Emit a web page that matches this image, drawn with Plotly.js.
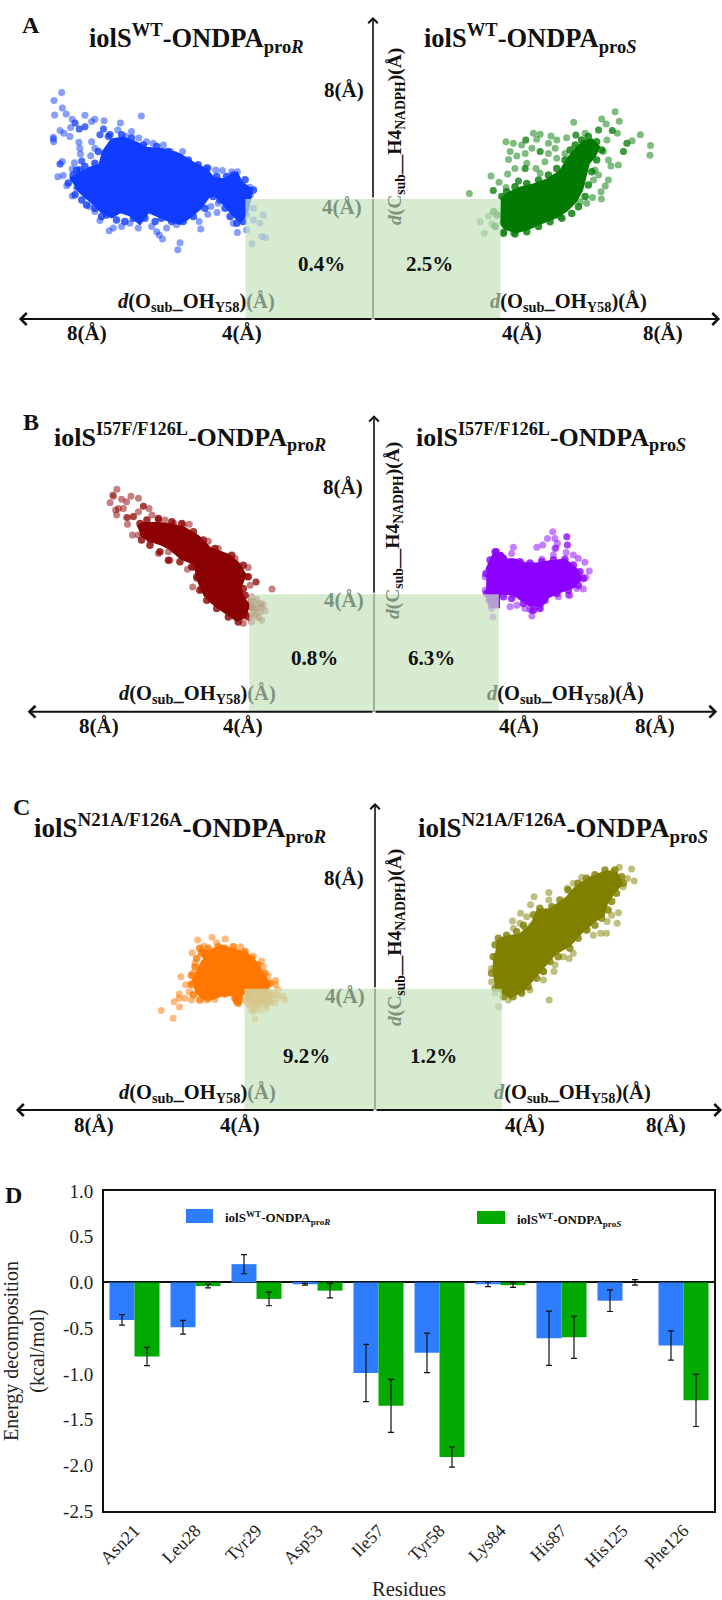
<!DOCTYPE html>
<html><head><meta charset="utf-8">
<script src="https://cdn.plot.ly/plotly-3.0.1.min.js"></script>
<style>html,body{margin:0;padding:0;background:#fff}</style></head>
<body><div id="chart" style="width:722px;height:1600px"></div>
<script>
// ---- Panel D data (kcal/mol) ----
const residues=["Asn21","Leu28","Tyr29","Asp53","Ile57","Tyr58","Lys84","His87","His125","Phe126"];
const proRValues=[-0.41,-0.49,0.20,-0.02,-0.99,-0.77,-0.02,-0.61,-0.20,-0.69];
const proRErrors=[0.057,0.075,0.105,0.01,0.313,0.216,0.025,0.297,0.118,0.16];
const proSValues=[-0.81,-0.04,-0.18,-0.09,-1.35,-1.91,-0.03,-0.60,0.00,-1.29];
const proSErrors=[0.10,0.02,0.075,0.08,0.29,0.11,0.025,0.23,0.03,0.286];
const energyTickVals=[-2.5,-2,-1.5,-1,-0.5,0,0.5,1];
const energyTickText=["-2.5","-2.0","-1.5","-1.0","-0.5","0.0","0.5","1.0"];

// ---- Panels A-C: [d(O..OH), d(C..H4)] in angstrom ----
// *Core = outline of the saturated region, *Edge = points on its rim, *Points = separately visible points
const aRCore=[[9.50,4.67],[9.19,4.86],[8.87,5.03],[8.56,5.14],[8.45,5.58],[8.19,5.97],[7.83,6.03],[7.41,5.86],[7.10,5.69],[6.57,5.64],[6.05,5.47],[5.63,5.19],[5.22,4.97],[5.01,4.69],[4.69,4.64],[4.27,4.86],[4.12,4.53],[3.80,4.30],[3.96,3.53],[4.17,3.25],[4.43,3.53],[4.69,3.86],[4.95,4.14],[5.16,4.08],[5.42,3.69],[5.74,3.41],[6.05,3.19],[6.42,3.30],[6.78,3.47],[7.04,3.58],[7.31,3.19],[7.62,3.47],[7.93,3.58],[8.19,3.41],[8.51,3.58],[8.77,3.86],[9.08,4.14],[9.34,4.41]];
const aREdge=[[9.19,4.97],[9.40,4.80],[9.55,4.53],[9.34,4.14],[9.13,3.97],[8.98,3.80],[8.72,3.69],[8.51,3.42],[8.35,3.47],[8.04,3.30],[7.78,3.25],[7.51,3.36],[7.15,3.36],[6.83,3.25],[6.63,3.36],[6.31,3.25],[5.95,3.25],[5.63,3.42],[5.27,3.69],[5.01,4.08],[4.80,3.97],[4.64,3.69],[4.48,3.42],[4.27,3.19],[4.07,3.25],[3.75,4.30],[4.01,4.64],[4.38,4.80],[4.59,4.75],[4.90,4.75],[5.21,5.03],[5.48,5.14],[5.79,5.30],[6.21,5.47],[6.42,5.58],[6.78,5.75],[7.20,5.80],[7.57,6.03],[7.88,6.14],[8.25,6.14],[8.61,5.58],[8.72,5.19],[9.03,5.08],[9.29,4.97]];
const aRPoints=[[9.76,7.55],[10.00,7.28],[9.74,7.03],[9.98,6.80],[9.62,6.83],[9.03,6.79],[7.26,6.77],[9.43,6.66],[8.72,6.66],[8.43,6.61],[7.92,6.53],[9.48,6.38],[9.81,6.28],[9.69,6.19],[9.50,6.08],[10.02,6.06],[10.01,5.91],[7.57,6.25],[8.00,6.30],[7.74,6.08],[7.34,6.03],[7.10,5.91],[6.89,5.86],[6.57,5.80],[6.34,5.58],[5.97,5.58],[9.22,5.89],[9.19,5.69],[9.17,5.50],[8.85,5.44],[8.82,5.91],[8.72,5.69],[9.74,5.25],[9.81,5.17],[9.36,5.21],[9.43,5.00],[9.88,4.74],[9.71,4.78],[9.60,4.44],[9.43,4.10],[9.29,4.36],[8.89,3.75],[8.72,3.58],[8.56,3.28],[8.27,2.94],[8.14,3.03],[7.88,3.08],[7.62,3.19],[7.36,3.03],[6.94,3.08],[6.78,2.91],[6.70,2.80],[6.60,2.67],[6.47,3.03],[6.05,2.54],[6.12,2.31],[6.16,3.14],[5.45,3.25],[5.40,3.00],[5.18,3.49],[5.08,3.75],[4.89,3.55],[4.85,3.86],[5.16,5.03],[4.93,4.97],[4.72,4.95],[4.43,4.91],[4.25,4.91],[3.86,4.39],[3.84,4.14],[4.25,2.88],[3.96,2.97],[4.38,3.19],[3.96,3.47],[3.75,3.69],[3.44,3.47],[3.54,3.19],[3.75,3.30],[3.49,2.75],[3.37,2.72],[3.79,2.51],[9.34,6.53],[9.34,6.53],[9.21,6.33],[9.21,6.33],[9.03,6.41],[9.03,6.41],[8.82,6.58],[8.56,6.14],[8.56,6.14],[8.30,6.08],[8.30,6.08],[8.45,6.33],[8.45,6.33],[9.13,5.27],[9.13,5.27],[9.81,5.17],[10.02,6.00]];
const aSCore=[[4.00,3.97],[4.25,4.19],[4.61,4.36],[5.03,4.47],[5.45,4.63],[5.87,4.91],[6.13,5.36],[6.34,5.63],[6.60,5.91],[6.86,5.97],[7.07,5.74],[6.96,5.47],[6.75,5.19],[6.65,4.74],[6.54,4.30],[6.34,3.91],[6.07,3.63],[5.76,3.41],[5.34,3.24],[4.87,3.02],[4.51,2.91],[4.14,3.02],[3.98,3.24]];
const aSEdge=[[4.04,4.08],[4.19,4.24],[4.45,4.41],[4.82,4.52],[5.19,4.63],[5.50,4.80],[5.76,5.02],[6.02,5.30],[6.18,5.63],[6.34,5.80],[6.54,5.97],[6.75,6.08],[7.01,5.91],[7.17,5.63],[7.01,5.30],[6.86,4.91],[6.75,4.47],[6.65,4.08],[6.44,3.74],[6.23,3.52],[5.92,3.36],[5.55,3.24],[5.19,3.08],[4.82,2.91],[4.45,2.83],[4.09,2.86],[3.83,3.08],[3.88,3.47],[3.78,3.58]];
const aSPoints=[[7.59,6.91],[6.29,6.56],[7.17,6.67],[7.72,6.59],[7.31,6.50],[8.38,6.14],[8.12,5.94],[8.70,5.78],[8.68,5.46],[7.50,6.28],[7.07,6.30],[6.65,6.19],[6.36,6.13],[6.07,6.04],[5.76,5.97],[5.58,6.10],[5.24,6.16],[5.03,6.19],[5.13,5.99],[4.79,5.97],[4.17,5.91],[4.40,5.86],[4.66,5.80],[4.30,5.58],[4.25,5.32],[4.51,5.43],[4.77,5.52],[4.98,5.69],[5.24,5.58],[5.50,5.86],[5.71,5.69],[5.50,5.52],[5.39,5.24],[5.76,5.36],[6.02,5.52],[4.82,5.19],[4.45,5.02],[4.22,4.83],[3.70,4.77],[3.95,4.56],[5.11,5.02],[5.24,4.86],[4.56,4.60],[4.77,5.02],[3.77,4.28],[3.02,4.18],[4.17,4.38],[3.62,3.43],[3.36,3.24],[3.49,2.86],[3.73,3.17],[4.09,2.91],[4.40,2.88],[5.87,3.41],[6.96,4.97],[7.07,4.80],[7.38,4.63],[7.28,4.43],[7.15,4.24],[7.16,4.00],[6.88,4.05],[6.70,3.86],[6.49,3.91],[7.69,5.13],[7.46,5.10],[7.38,5.30],[7.96,5.86],[7.85,5.58],[7.66,6.19],[7.33,5.97],[7.22,5.58],[6.91,4.63],[4.79,5.97],[6.36,6.13],[7.50,6.28],[7.07,6.30],[7.96,5.86],[7.85,5.58],[5.24,5.58],[4.77,5.02],[3.77,4.28],[4.56,4.60]];
const bRCore=[[7.58,6.30],[7.39,6.41],[6.91,6.41],[6.48,6.36],[6.06,6.24],[5.63,5.96],[5.26,5.56],[4.67,5.33],[4.35,5.05],[4.13,4.65],[4.29,4.25],[4.24,3.97],[4.03,3.63],[4.13,3.23],[4.40,3.12],[4.72,3.35],[5.09,3.63],[5.42,3.97],[5.63,4.48],[5.74,5.05],[6.16,5.22],[6.54,5.56],[6.86,5.73],[7.23,5.85],[7.50,6.07]];
const bREdge=[[7.50,6.41],[7.28,6.53],[6.91,6.58],[6.48,6.47],[6.16,6.41],[5.79,6.13],[5.47,5.85],[5.10,5.56],[4.56,5.33],[4.19,4.99],[4.03,4.60],[4.19,4.20],[4.13,3.97],[3.92,3.57],[4.03,3.23],[4.35,3.06],[4.67,3.23],[5.04,3.52],[5.36,3.80],[5.58,4.14],[5.68,4.60],[5.84,4.94],[6.22,5.11],[6.59,5.16],[6.86,5.45],[7.18,5.67],[7.45,5.85]];
const bRPoints=[[8.24,7.58],[8.37,7.38],[8.09,7.24],[8.46,7.12],[7.79,7.34],[7.55,7.27],[7.93,7.15],[8.28,6.87],[8.25,6.70],[8.03,6.92],[7.39,7.00],[7.21,6.92],[7.55,6.81],[7.12,6.70],[6.91,6.53],[7.93,6.62],[7.71,6.66],[7.90,6.39],[7.74,6.02],[7.55,6.02],[7.18,5.85],[6.91,5.39],[6.54,5.16],[6.59,5.45],[6.70,6.53],[6.41,6.41],[5.92,6.39],[6.11,6.36],[5.31,5.81],[4.99,5.56],[4.45,5.22],[4.03,4.91],[4.08,4.60],[3.78,4.42],[3.97,4.31],[3.27,4.18],[5.79,4.91],[5.98,4.85],[5.68,4.54],[5.81,4.25],[5.54,4.20],[5.20,3.80],[4.19,3.01],[3.92,3.91],[3.76,3.82],[3.97,3.63],[3.63,3.69],[3.49,3.44],[3.60,3.12],[3.92,3.06],[3.78,3.35],[3.76,3.52],[3.65,3.40],[7.39,7.00],[8.35,7.34],[8.19,6.92],[7.90,6.62],[7.71,6.64],[3.78,4.42],[3.85,3.75],[3.70,3.60],[3.85,3.45],[3.60,3.55],[3.80,3.25],[3.95,3.30],[3.70,3.20],[3.95,3.75],[3.55,3.65],[3.90,3.55]];
const bSCore=[[3.61,4.83],[3.83,5.34],[4.09,5.39],[4.25,5.17],[4.52,5.17],[4.84,5.05],[5.22,5.03],[5.64,5.11],[6.12,5.17],[6.50,4.83],[6.63,4.54],[6.39,4.26],[5.96,4.09],[5.59,3.92],[5.38,3.63],[5.00,3.63],[4.68,3.86],[4.47,4.03],[3.99,4.03],[3.99,3.58],[3.72,3.58],[3.59,4.14]];
const bSEdge=[[3.59,4.71],[3.72,5.17],[3.88,5.45],[4.15,5.22],[4.41,5.11],[4.68,5.11],[5.00,5.07],[5.38,5.11],[5.75,5.17],[6.12,5.19],[6.39,5.00],[6.60,4.77],[6.71,4.54],[6.55,4.31],[6.23,4.14],[5.86,4.03],[5.48,3.80],[5.32,3.52],[5.11,3.46],[4.79,3.69],[4.41,3.86],[4.15,3.92],[3.88,3.69],[3.61,4.03]];
const bSPoints=[[5.73,6.13],[5.56,5.90],[6.18,5.96],[5.80,5.90],[5.22,5.60],[5.41,5.68],[5.88,5.73],[6.20,5.68],[5.80,5.56],[6.16,5.42],[5.75,5.34],[6.39,5.34],[6.55,5.22],[6.76,5.09],[6.90,4.79],[6.79,4.58],[6.71,4.18],[6.50,4.20],[6.28,3.97],[5.91,3.92],[5.38,5.19],[4.47,5.60],[4.41,5.39],[3.93,5.45],[3.56,4.60],[3.56,4.14],[3.67,3.80],[3.77,3.52],[3.81,3.23],[4.36,3.58],[4.58,3.63],[5.06,3.26],[5.00,3.48],[5.27,3.58],[4.84,3.52],[4.47,3.97],[6.18,5.96],[6.20,5.68],[5.83,5.58],[3.93,5.45],[6.23,3.97],[5.06,3.46]];
const cRCore=[[5.46,5.28],[5.18,5.23],[4.76,5.39],[4.40,5.28],[3.99,5.17],[3.68,4.84],[3.42,4.40],[3.28,4.13],[3.37,3.96],[3.99,3.96],[4.14,3.80],[4.20,3.52],[4.35,3.57],[4.40,3.80],[4.76,3.80],[5.02,3.69],[5.33,3.69],[5.54,3.90],[5.64,4.29],[5.49,4.62],[5.33,4.95]];
const cREdge=[[5.44,5.34],[5.18,5.34],[4.87,5.39],[4.66,5.34],[4.40,5.39],[4.04,5.23],[3.83,5.01],[3.63,4.79],[3.42,4.51],[3.26,4.18],[5.54,5.00],[5.59,4.73],[5.70,4.45],[5.70,4.13],[5.64,3.80],[5.44,3.63],[5.18,3.69],[4.97,3.80],[4.66,3.83],[4.35,3.69],[4.25,3.52],[5.39,5.17]];
const cRPoints=[[5.06,5.70],[5.51,5.61],[4.65,5.64],[4.92,5.52],[5.31,5.41],[4.17,5.39],[5.68,5.19],[3.78,5.08],[3.52,4.92],[3.47,4.73],[3.32,4.42],[3.09,4.27],[3.08,4.13],[3.01,3.96],[5.59,4.84],[5.64,4.53],[6.03,4.40],[5.88,4.13],[5.70,4.18],[5.77,3.90],[6.08,3.83],[6.08,3.69],[5.90,3.69],[6.24,3.57],[5.70,3.63],[6.07,3.40],[6.64,3.28],[6.27,3.03],[5.23,3.63],[4.97,3.65],[4.30,3.57],[4.04,3.63],[3.73,3.00],[3.78,3.25],[3.57,3.30],[3.42,3.47],[3.26,3.69],[3.01,3.69],[2.85,3.76],[2.80,3.63],[3.63,3.63],[3.88,3.80],[3.37,3.80],[3.11,3.52],[3.32,3.54],[3.99,3.90],[3.73,3.90],[3.47,3.90],[3.21,3.80],[3.68,3.47],[3.88,3.47],[3.52,3.58],[3.37,3.36],[3.90,3.88],[3.60,3.85],[3.35,3.85],[3.75,3.70],[3.50,3.70],[3.95,3.65],[3.65,3.55],[3.85,3.75],[3.55,3.75],[3.30,3.70],[3.70,3.80],[3.45,3.60],[3.95,3.80],[3.60,3.65],[3.80,3.60],[3.95,3.95],[3.80,3.95],[3.65,3.95],[3.50,3.95],[3.35,3.92],[3.15,3.85],[3.20,3.65],[3.40,3.70],[3.55,3.50],[3.70,3.35],[3.85,3.30],[3.95,3.50],[3.25,3.55],[3.05,3.80],[3.30,3.80],[3.90,3.70],[3.75,3.50],[3.50,3.85]];
const cSCore=[[3.78,5.56],[4.04,5.70],[4.50,5.77],[4.86,6.10],[5.07,6.60],[5.43,6.60],[5.95,6.99],[6.26,7.37],[6.68,7.65],[7.19,7.87],[7.50,7.81],[7.66,7.48],[7.40,7.15],[7.19,6.82],[7.09,6.43],[6.78,6.22],[6.37,5.83],[6.05,5.45],[5.59,5.17],[5.28,4.79],[4.97,4.40],[4.61,3.96],[4.19,3.74],[3.78,4.02],[3.69,4.62],[3.73,5.17]];
const cSEdge=[[3.83,5.67],[4.09,5.77],[4.40,5.88],[4.61,6.10],[4.92,6.44],[5.12,6.66],[5.49,6.71],[5.74,6.93],[6.00,7.26],[6.31,7.48],[6.57,7.65],[6.83,7.76],[7.14,7.92],[7.45,7.92],[7.66,7.70],[7.71,7.48],[7.50,7.15],[7.35,6.88],[7.24,6.60],[7.04,6.33],[6.83,6.10],[6.57,5.94],[6.31,5.67],[6.05,5.34],[5.69,5.06],[5.43,4.90],[5.23,4.57],[5.02,4.35],[4.76,4.07],[4.55,3.85],[4.29,3.74],[3.98,3.74],[3.73,4.02],[3.62,4.51],[3.67,5.06],[3.73,5.45]];
const cSPoints=[[7.59,8.01],[7.97,7.95],[7.40,7.87],[8.05,7.56],[7.71,7.37],[7.84,7.64],[6.42,7.68],[6.16,7.48],[5.97,7.32],[5.40,7.18],[5.40,6.93],[4.94,7.04],[4.83,6.77],[4.52,6.49],[4.27,6.24],[4.50,6.16],[4.71,6.38],[4.30,5.99],[4.66,5.99],[4.86,6.10],[7.56,6.51],[7.35,6.43],[7.52,6.16],[7.21,6.22],[7.19,5.83],[7.01,5.83],[6.78,5.77],[6.59,5.94],[6.16,5.17],[6.03,5.00],[5.85,5.06],[5.59,4.79],[5.56,4.57],[5.23,4.57],[5.23,4.29],[4.81,3.96],[4.55,3.91],[5.41,3.63],[4.14,3.63],[3.83,3.41],[3.73,3.85],[3.62,4.67],[3.62,4.23],[3.93,3.96]];

const serif='"Liberation Serif","Times New Roman",serif';
const W=722,H=1600;
const px=x=>x/W, py=y=>1-y/H;

// panel geometry, measured on the reference: origin pixel and pixels per angstrom
const panels=[
 {id:'',  cx:373,cy:319,  sx:31.9,sy:30,  top:0,  bot:345, rl:-4,   rr:4,   xl:-11.1, xr:10.88, yt:10.07,
  hR:[196,38], hS:[530,38], mut:'WT', letter:['A',31,25],
  t8:[344,90], t4:[342,207], yl:[396,137], pR:[321,264,'0.4%'], pS:[429,264,'2.5%'],
  dL:[196,303], dR:[568,303], ty:333, tx:[87,242,522,663],
  cR:'#0f3cff', cS:'#007a00', coreR:aRCore, edgeR:aREdge, ptsR:aRPoints, coreS:aSCore, edgeS:aSEdge, ptsS:aSPoints, fs:26.5},
 {id:'2', cx:374,cy:711.7,sx:31.2,sy:29.35,top:390,bot:750,rl:-4,   rr:4,   xl:-11.1, xr:11.0,  yt:10.1,
  hR:[190,437], hS:[551,437], mut:'I57F/F126L', letter:['B',31,422],
  t8:[343,487], t4:[344,600], yl:[394,531], pR:[314,658,'0.8%'], pS:[431,658,'6.3%'],
  dL:[197,694], dR:[565,694], ty:726, tx:[99,243,519,655],
  cR:'#8b0000', cS:'#8b00ff', coreR:bRCore, edgeR:bREdge, ptsR:bRPoints, coreS:bSCore, edgeS:bSEdge, ptsS:bSPoints, fs:26},
 {id:'3', cx:375,cy:1110, sx:32.2,sy:30.3, top:780,bot:1140,rl:-4.05,rr:3.94,xl:-11.15,xr:10.78, yt:10.13,
  hR:[180,828], hS:[563,828], mut:'N21A/F126A', letter:['C',21,807],
  t8:[344,878], t4:[345,996], yl:[396,938], pR:[306,1056,'9.2%'], pS:[433,1056,'1.2%'],
  dL:[197,1093], dR:[572,1093], ty:1125, tx:[93.5,240,525,666],
  cR:'#ff7700', cS:'#808000', coreR:cRCore, edgeR:cREdge, ptsR:cRPoints, coreS:cSCore, edgeS:cSEdge, ptsS:cSPoints, fs:27}
];

const traces=[], shapes=[], annotations=[];
const layout={width:W,height:H,margin:{l:0,r:0,t:0,b:0},paper_bgcolor:'#fff',plot_bgcolor:'rgba(0,0,0,0)',
  showlegend:false,hovermode:false,bargap:0.18,bargroupgap:0,font:{family:serif,color:'#111'}};

function txt(x,y,text,size,extra){
  annotations.push(Object.assign({xref:'paper',yref:'paper',x:px(x),y:py(y),text:text,showarrow:false,
    xanchor:'center',yanchor:'middle',font:{family:serif,size:size,color:'#111'}},extra||{}));
}
const dim='#7d937d';
function cloud(p,core,edge,pts,color,sign){
  const xa='x'+p.id, ya='y'+p.id;
  traces.push({type:'scatter',mode:'lines',xaxis:xa,yaxis:ya,x:core.map(c=>sign*c[0]),y:core.map(c=>c[1]),
    fill:'toself',fillcolor:color,line:{color:color,width:3}});
  traces.push({type:'scatter',mode:'markers',xaxis:xa,yaxis:ya,x:edge.map(c=>sign*c[0]),y:edge.map(c=>c[1]),
    marker:{color:color,size:7.5,opacity:0.8,line:{width:0}}});
  traces.push({type:'scatter',mode:'markers',xaxis:xa,yaxis:ya,x:pts.map(c=>sign*c[0]),y:pts.map(c=>c[1]),
    marker:{color:color,size:7,opacity:0.5,line:{width:0}}});
}
function arrow(p,x,y,w,color){
  annotations.push({xref:'x'+p.id,yref:'y'+p.id,axref:'x'+p.id,ayref:'y'+p.id,x:x,y:y,
    ax:0,ay:x===0?4:0,text:'',showarrow:true,arrowhead:4,arrowsize:1.15,arrowwidth:w,arrowcolor:color});
}
panels.forEach(p=>{
  const xn='xaxis'+p.id, yn='yaxis'+p.id;
  layout[xn]={visible:false,domain:[0,1],range:[(0-p.cx)/p.sx,(W-p.cx)/p.sx],fixedrange:true,anchor:'y'+p.id};
  layout[yn]={visible:false,domain:[py(p.bot),py(p.top)],range:[(p.cy-p.bot)/p.sy,(p.cy-p.top)/p.sy],fixedrange:true,anchor:'x'+p.id};
  cloud(p,p.coreR,p.edgeR,p.ptsR,p.cR,-1);
  cloud(p,p.coreS,p.edgeS,p.ptsS,p.cS,1);
  const xr='x'+p.id, yr='y'+p.id;
  shapes.push({type:'line',layer:'below',xref:xr,yref:yr,x0:0,x1:0,y0:0,y1:4,line:{color:'#111',width:1.6}});
  shapes.push({type:'rect',layer:'above',xref:xr,yref:yr,x0:p.rl,x1:p.rr,y0:0,y1:4,
    fillcolor:'rgb(198,226,190)',opacity:0.7,line:{width:0}});
  arrow(p,0,p.yt,1.6,'#111');
  arrow(p,p.xl,0,2,'#111');
  arrow(p,p.xr,0,2,'#111');
  const mk=s=>'<b>iolS<sup>'+p.mut+'</sup>-ONDPA<sub>pro<i>'+s+'</i></sub></b>';
  txt(p.hR[0],p.hR[1],mk('R'),p.fs);
  txt(p.hS[0],p.hS[1],mk('S'),p.fs);
  txt(p.letter[1],p.letter[2],'<b>'+p.letter[0]+'</b>',24);
  txt(p.t8[0],p.t8[1],'<b>8(Å)</b>',21);
  txt(p.t4[0],p.t4[1],'<b>4(Å)</b>',21,{font:{family:serif,size:21,color:dim}});
  txt(p.yl[0],p.yl[1],'<b><span style="color:'+dim+'"><i>d</i>(C</span><sub>sub</sub>__H4<sub>NADPH</sub>)(Å)</b>',19.5,{textangle:-90});
  txt(p.pR[0],p.pR[1],'<b>'+p.pR[2]+'</b>',21);
  txt(p.pS[0],p.pS[1],'<b>'+p.pS[2]+'</b>',21);
  const dm='<span style="color:'+dim+'">';
  txt(p.dL[0],p.dL[1],'<b><i>d</i>(O<sub>sub</sub>_OH<sub>Y58</sub>)'+dm+'(Å)</span></b>',20.5);
  txt(p.dR[0],p.dR[1],'<b>'+dm+'<i>d</i></span>(O<sub>sub</sub>_OH<sub>Y58</sub>)(Å)</b>',20.5);
  ['8(Å)','4(Å)','4(Å)','8(Å)'].forEach((t,i)=>txt(p.tx[i],p.ty,'<b>'+t+'</b>',21));
});

// Panel D
const blue='#2e7dff', green='#00aa00';
traces.push({type:'bar',name:'iolS WT-ONDPA proR',x:residues,y:proRValues,xaxis:'x4',yaxis:'y4',offsetgroup:'R',
  marker:{color:blue},error_y:{type:'data',array:proRErrors,color:'#111',thickness:1.2,width:3}});
traces.push({type:'bar',name:'iolS WT-ONDPA proS',x:residues,y:proSValues,xaxis:'x4',yaxis:'y4',offsetgroup:'S',
  marker:{color:green},error_y:{type:'data',array:proSErrors,color:'#111',thickness:1.2,width:3}});
layout.barmode='group';
layout.xaxis4={domain:[px(104),px(714)],anchor:'y4',type:'category',range:[-0.5,9.5],showline:true,mirror:true,linewidth:2,linecolor:'#111',
  ticks:'',showgrid:false,tickangle:-45,tickfont:{family:serif,size:18,color:'#222'},fixedrange:true,
  title:{text:'Residues',font:{family:serif,size:20.5,color:'#222'},standoff:14},automargin:false};
layout.yaxis4={domain:[py(1511),py(1191)],anchor:'x4',range:[-2.5,1],showline:true,mirror:true,linewidth:2,linecolor:'#111',
  ticks:'',showgrid:false,zeroline:true,zerolinecolor:'#111',zerolinewidth:2,tickmode:'array',tickvals:energyTickVals,ticktext:energyTickText,
  ticklabelstandoff:5,tickfont:{family:serif,size:19,color:'#222'},fixedrange:true,automargin:false,
  title:{text:'Energy decomposition<br>(kcal/mol)',font:{family:serif,size:20,color:'#222'},standoff:14}};
txt(14,1195,'<b>D</b>',24);
shapes.push({type:'rect',xref:'paper',yref:'paper',x0:px(186),x1:px(213),y0:py(1223),y1:py(1209),fillcolor:blue,line:{width:0}});
shapes.push({type:'rect',xref:'paper',yref:'paper',x0:px(477),x1:px(505),y0:py(1224),y1:py(1211),fillcolor:green,line:{width:0}});
txt(223,1218,'<b>iolS<sup>WT</sup>-ONDPA<sub>pro<i>R</i></sub></b>',13,{xanchor:'left'});
txt(515,1220,'<b>iolS<sup>WT</sup>-ONDPA<sub>pro<i>S</i></sub></b>',13,{xanchor:'left'});

layout.shapes=shapes; layout.annotations=annotations;
Plotly.newPlot('chart',traces,layout,{displayModeBar:false});
</script></body></html>
